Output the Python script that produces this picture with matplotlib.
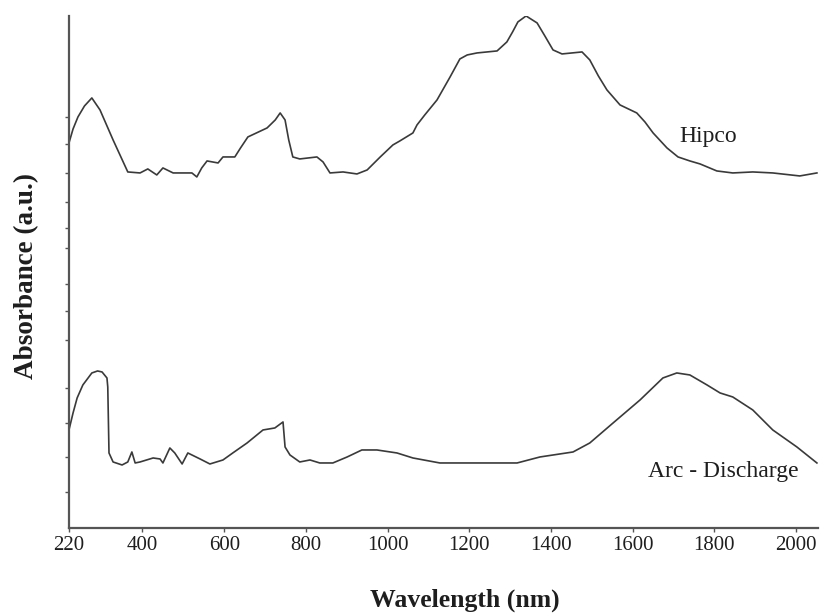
import matplotlib
matplotlib.use("Agg")
import matplotlib.pyplot as plt

# Wavelength (nm) and absorbance (a.u., curves offset vertically)
hipco_wl = [220, 230, 242, 258, 276, 296, 312, 328, 346, 364, 394, 413, 435, 450, 475,
            521, 533, 545, 558, 585, 597, 626, 640, 658, 705, 725, 737, 749, 758, 768,
            785, 827, 842, 859, 891, 925, 950, 982, 1013, 1030, 1062, 1072, 1091,
            1121, 1153, 1177, 1195, 1219, 1268, 1292, 1306, 1319, 1339, 1366, 1385,
            1405, 1427, 1476, 1495, 1516, 1537, 1569, 1610, 1630, 1650, 1684, 1711,
            1740, 1765, 1806, 1845, 1894, 1943, 2009, 2051]
hipco_abs = [3.85, 3.99, 4.11, 4.22, 4.30, 4.18, 4.03, 3.88, 3.72, 3.56, 3.55, 3.59,
             3.53, 3.60, 3.55, 3.55, 3.51, 3.60, 3.67, 3.65, 3.71, 3.71, 3.80, 3.91,
             4.00, 4.08, 4.15, 4.08, 3.88, 3.71, 3.69, 3.71, 3.66, 3.55, 3.56, 3.54,
             3.58, 3.71, 3.83, 3.87, 3.95, 4.03, 4.13, 4.28, 4.51, 4.69, 4.73, 4.75,
             4.77, 4.86, 4.96, 5.06, 5.12, 5.05, 4.92, 4.78, 4.74, 4.76, 4.68, 4.52,
             4.38, 4.23, 4.15, 4.06, 3.95, 3.80, 3.71, 3.67, 3.64, 3.57, 3.55, 3.56,
             3.55, 3.52, 3.55]

arc_wl = [220, 230, 240, 254, 276, 290, 301, 313, 315, 318, 328, 350, 364, 374, 382,
          394, 426, 443, 450, 467, 479, 497, 511, 541, 565, 597, 621, 656, 695, 724,
          744, 749, 761, 785, 810, 834, 866, 901, 937, 974, 1023, 1062, 1128, 1317,
          1373, 1454, 1495, 1552, 1618, 1674, 1708, 1740, 1782, 1814, 1845, 1894,
          1943, 2002, 2051]
arc_abs = [0.98, 1.15, 1.30, 1.43, 1.55, 1.57, 1.56, 1.50, 1.41, 0.75, 0.66, 0.63,
           0.66, 0.76, 0.65, 0.66, 0.70, 0.69, 0.65, 0.80, 0.75, 0.64, 0.75, 0.69,
           0.64, 0.68, 0.75, 0.85, 0.98, 1.00, 1.06, 0.81, 0.73, 0.66, 0.68, 0.65,
           0.65, 0.71, 0.78, 0.78, 0.75, 0.70, 0.65, 0.65, 0.71, 0.76, 0.85, 1.05,
           1.28, 1.50, 1.55, 1.53, 1.43, 1.35, 1.31, 1.18, 0.98, 0.81, 0.65]

xticks = [220, 400, 600, 800, 1000, 1200, 1400, 1600, 1800, 2000]
ytick_marks = [4.11, 3.84, 3.55, 3.26, 3.00, 2.80, 2.44, 2.17, 1.88, 1.40, 1.05, 0.71, 0.36]

serif = ["Liberation Serif", "DejaVu Serif"]
text_color = "#1e1e1e"

fig = plt.figure(figsize=(8.22, 6.13), dpi=100)
ax = fig.add_axes([0.0839, 0.1387, 0.9109, 0.8353])

line_color = "#3a3a3a"
ax.plot(hipco_wl, hipco_abs, color=line_color, lw=1.2, solid_joinstyle="round")
ax.plot(arc_wl, arc_abs, color=line_color, lw=1.2, solid_joinstyle="round")

ax.set_xlim(220, 2053)
ax.set_ylim(0, 5.12)

for side in ("top", "right"):
    ax.spines[side].set_visible(False)
for side in ("left", "bottom"):
    ax.spines[side].set_color("#555555")
    ax.spines[side].set_linewidth(1.6)

ax.set_xticks(xticks)
ax.set_xticklabels([str(t) for t in xticks], family=serif, fontsize=15, color=text_color)
ax.set_yticks(ytick_marks)
ax.set_yticklabels([])
ax.tick_params(axis="both", direction="out", length=3, width=1.0, color="#555555")
ax.tick_params(axis="x", pad=3)

ax.set_xlabel("Wavelength (nm)", family=serif, fontsize=18.5, fontweight="bold",
              color=text_color, va="center", ha="center")
ax.xaxis.set_label_coords(0.529, -0.141)
ax.set_ylabel("Absorbance (a.u.)", family=serif, fontsize=19.5, fontweight="bold",
              color=text_color, va="center", ha="center")
ax.yaxis.set_label_coords(-0.056, 0.492)

ax.text(1785, 3.91, "Hipco", family=serif, fontsize=17, color=text_color,
        ha="center", va="center")
ax.text(1821, 0.56, "Arc - Discharge", family=serif, fontsize=17, color=text_color,
        ha="center", va="center")

fig.savefig("out.png", dpi=100, facecolor="white")
